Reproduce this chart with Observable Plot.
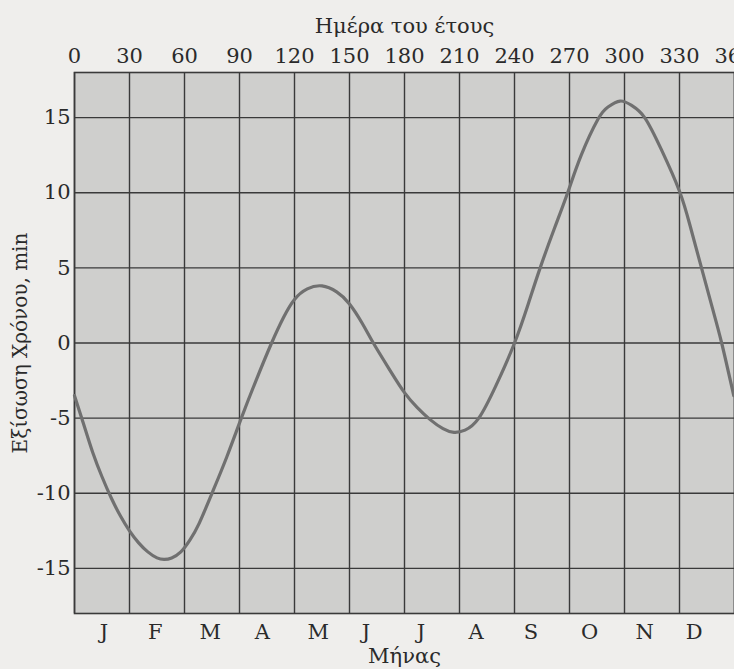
<!DOCTYPE html>
<html>
<head>
<meta charset="utf-8">
<script src="https://cdn.jsdelivr.net/npm/d3@7"></script>
<script src="https://cdn.jsdelivr.net/npm/@observablehq/plot@0.6"></script>
<style>
  html, body { margin: 0; padding: 0; background: #efeeec; overflow: hidden; }
</style>
</head>
<body>
<div id="chart"></div>
<script>
// Day of year and equation of time (minutes)
const dayOfYear = [0, 5, 10, 15, 20, 25, 30, 35, 40, 45, 49, 53, 58, 63, 68, 75, 83, 91, 99, 107.5, 114, 120, 127, 135, 143, 150, 157, 163, 172, 180, 187, 194, 201, 207, 213, 220.5, 230, 240, 247.5, 254, 261.7, 269, 276.4, 285.6, 291, 297.6, 304, 311, 320, 330, 336, 342, 348, 353, 359.6];
const eqMinutes = [-3.5, -5.4, -7.3, -8.9, -10.3, -11.5, -12.5, -13.3, -13.9, -14.3, -14.4, -14.3, -13.9, -13.1, -12.0, -10, -7.6, -5, -2.5, 0, 1.7, 2.9, 3.6, 3.8, 3.4, 2.6, 1.3, 0, -1.8, -3.3, -4.3, -5.1, -5.7, -5.95, -5.8, -5, -2.8, 0, 2.6, 5, 7.6, 10, 12.5, 14.9, 15.7, 16.1, 15.8, 15, 12.9, 10.1, 7.7, 5, 2.3, 0, -3.5];

const dayTicks = [0, 30, 60, 90, 120, 150, 180, 210, 240, 270, 300, 330, 360];
const minuteTicks = [-15, -10, -5, 0, 5, 10, 15];
const monthLabels = ["J", "F", "M", "A", "M", "J", "J", "A", "S", "O", "N", "D"];
const monthPositions = [16, 44, 74, 102.5, 133, 159, 189, 219, 249, 281, 311, 338];

const topTitle = "Ημέρα του έτους";
const bottomTitle = "Μήνας";
const yTitle = "Εξίσωση Χρόνου, min";

const data = dayOfYear.map((d, i) => ({day: d, eq: eqMinutes[i]}));
const gridColor = "#3a3a3a";
const textColor = "#2a2a2a";

const chart = Plot.plot({
  width: 734,
  height: 669,
  marginLeft: 74,
  marginRight: 0,
  marginTop: 72,
  marginBottom: 56,
  style: {background: "#efeeec", fontFamily: "DejaVu Serif", fontSize: "20px", color: textColor},
  x: {domain: [0, 360]},
  y: {domain: [-18, 18]},
  marks: [
    Plot.frame({fill: "#cfcfcd", stroke: null}),
    Plot.ruleX(dayTicks, {stroke: gridColor, strokeWidth: 1.4}),
    Plot.ruleY(minuteTicks, {stroke: gridColor, strokeWidth: 1.4}),
    Plot.frame({stroke: gridColor, strokeWidth: 1.6}),
    Plot.line(data, {x: "day", y: "eq", curve: "natural", stroke: "#707070", strokeWidth: 3.2}),
    Plot.axisX(dayTicks, {anchor: "top", tickSize: 0, tickPadding: 10, label: null, fontSize: 21}),
    Plot.axisX(monthPositions, {anchor: "bottom", tickSize: 0, tickPadding: 11, tickFormat: (d, i) => monthLabels[i], label: null, fontSize: 21}),
    Plot.axisY(minuteTicks, {anchor: "left", tickSize: 0, tickPadding: 4, tickFormat: d => String(d), label: null, fontSize: 21}),
    Plot.text([topTitle], {frameAnchor: "top", lineAnchor: "middle", textAnchor: "middle", dy: -46, fontSize: 21}),
    Plot.text([bottomTitle], {frameAnchor: "bottom", lineAnchor: "middle", textAnchor: "middle", dy: 43, fontSize: 21}),
    Plot.text([yTitle], {frameAnchor: "left", lineAnchor: "middle", textAnchor: "middle", dx: -54, rotate: -90, fontSize: 20})
  ]
});
document.getElementById("chart").appendChild(chart);
</script>
</body>
</html>
